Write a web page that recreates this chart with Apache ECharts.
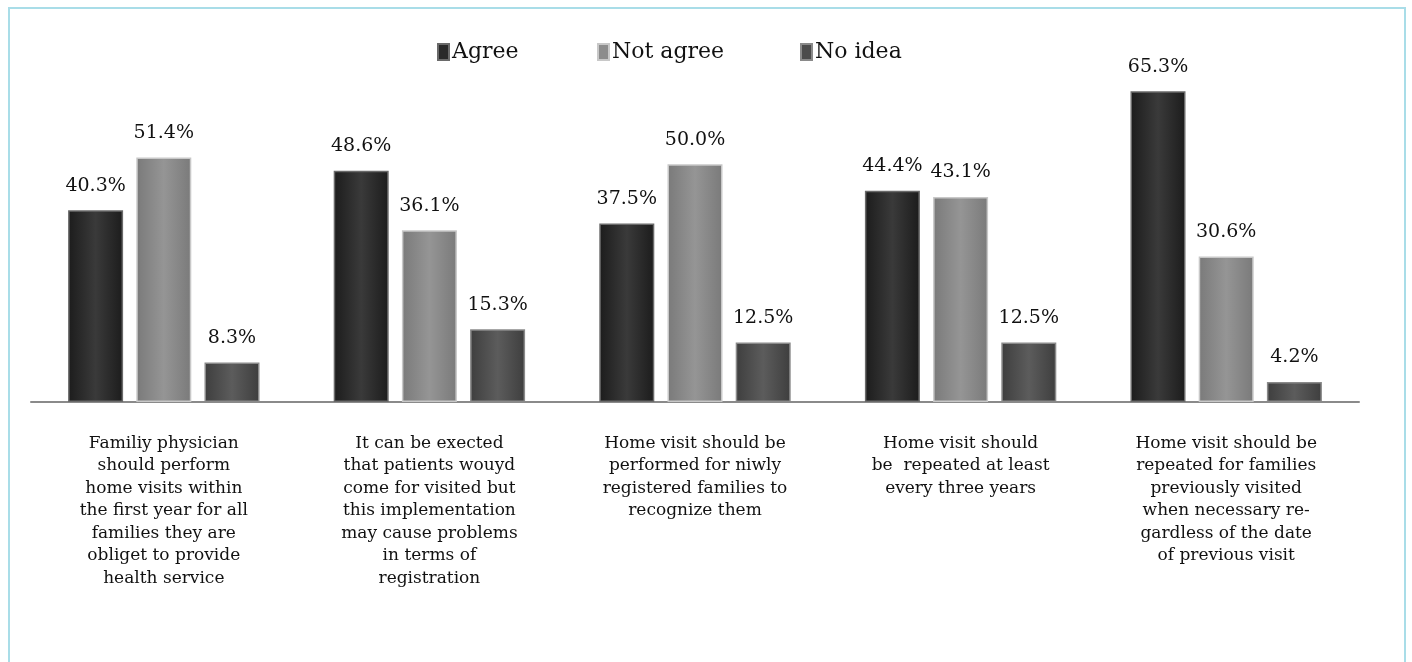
<!DOCTYPE html>
<html>
<head>
<meta charset="utf-8">
<script src="https://cdn.jsdelivr.net/npm/echarts@6/dist/echarts.min.js"></script>
<style>
  html, body { margin: 0; padding: 0; background: #ffffff; }
  #frame {
    position: absolute; left: 8px; top: 7px; width: 1398px; height: 660px;
    border: 2px solid #a9dde8; border-bottom: none; box-sizing: border-box;
  }
  #chart { position: absolute; left: 0; top: 0; width: 1412px; height: 662px; }
</style>
</head>
<body>
<div id="frame"></div>
<div id="chart"></div>
<script>
  // ── Data ────────────────────────────────────────────────────────────────
  var categories = [
    'Familiy physician\nshould perform\nhome visits within\nthe first year for all\nfamilies they are\nobliget to provide\nhealth service',
    'It can be exected\nthat patients wouyd\ncome for visited but\nthis implementation\nmay cause problems\nin terms of\nregistration',
    'Home visit should be\nperformed for niwly\nregistered families to\nrecognize them',
    'Home visit should\nbe  repeated at least\nevery three years',
    'Home visit should be\nrepeated for families\npreviously visited\nwhen necessary re-\ngardless of the date\nof previous visit'
  ];
  var seriesNames = ['Agree', 'Not agree', 'No idea'];
  var agree    = [40.3, 48.6, 37.5, 44.4, 65.3];
  var notAgree = [51.4, 36.1, 50.0, 43.1, 30.6];
  var noIdea   = [8.3, 15.3, 12.5, 12.5, 4.2];

  var FONT = 'DejaVu Serif';

  function barGradient(edge, mid) {
    return {
      type: 'linear', x: 0, y: 0, x2: 1, y2: 0,
      colorStops: [
        { offset: 0, color: edge },
        { offset: 0.5, color: mid },
        { offset: 1, color: edge }
      ]
    };
  }

  var styles = [
    { color: barGradient('#1c1c1c', '#3a3a3a'), border: '#6a6a6a', icon: '#2a2a2a' },
    { color: barGradient('#7a7a7a', '#959595'), border: '#c8c8c8', icon: '#8c8c8c' },
    { color: barGradient('#3e3e3e', '#5c5c5c'), border: '#8a8a8a', icon: '#4c4c4c' }
  ];

  function makeSeries(name, data, st) {
    return {
      name: name,
      type: 'bar',
      data: data,
      barWidth: 55,
      barGap: '24%',
      itemStyle: { color: st.color, borderColor: st.border, borderWidth: 1.5 },
      label: {
        show: true,
        position: 'top',
        distance: 15,
        color: '#111',
        fontFamily: FONT,
        fontSize: 19,
        formatter: function (p) { return p.value.toFixed(1) + '%'; }
      }
    };
  }

  function legendAt(name, left, st) {
    return {
      data: [{ name: name, itemStyle: { color: st.icon } }],
      left: left,
      top: 36,
      icon: 'rect',
      itemWidth: 11,
      itemHeight: 16,
      itemGap: 4,
      selectedMode: false,
      textStyle: { fontFamily: FONT, fontSize: 22, color: '#111', padding: [0, 0, 0, -2] }
    };
  }

  var chart = echarts.init(document.getElementById('chart'), null, { renderer: 'canvas' });

  chart.setOption({
    backgroundColor: 'transparent',
    animation: false,
    legend: [
      legendAt(seriesNames[0], 432, styles[0]),
      legendAt(seriesNames[1], 592, styles[1]),
      legendAt(seriesNames[2], 795, styles[2])
    ],
    grid: { left: 31, right: 53, top: 69, bottom: 260 },
    xAxis: {
      type: 'category',
      data: categories,
      axisLine: { lineStyle: { color: '#8a8a8a', width: 2 } },
      axisTick: { show: false },
      axisLabel: {
        interval: 0,
        margin: 30,
        color: '#111',
        fontFamily: FONT,
        fontSize: 17,
        lineHeight: 22.5,
        align: 'center'
      }
    },
    yAxis: {
      type: 'value',
      min: 0,
      max: 70,
      show: false
    },
    series: [
      makeSeries(seriesNames[0], agree, styles[0]),
      makeSeries(seriesNames[1], notAgree, styles[1]),
      makeSeries(seriesNames[2], noIdea, styles[2])
    ]
  });
</script>
</body>
</html>
